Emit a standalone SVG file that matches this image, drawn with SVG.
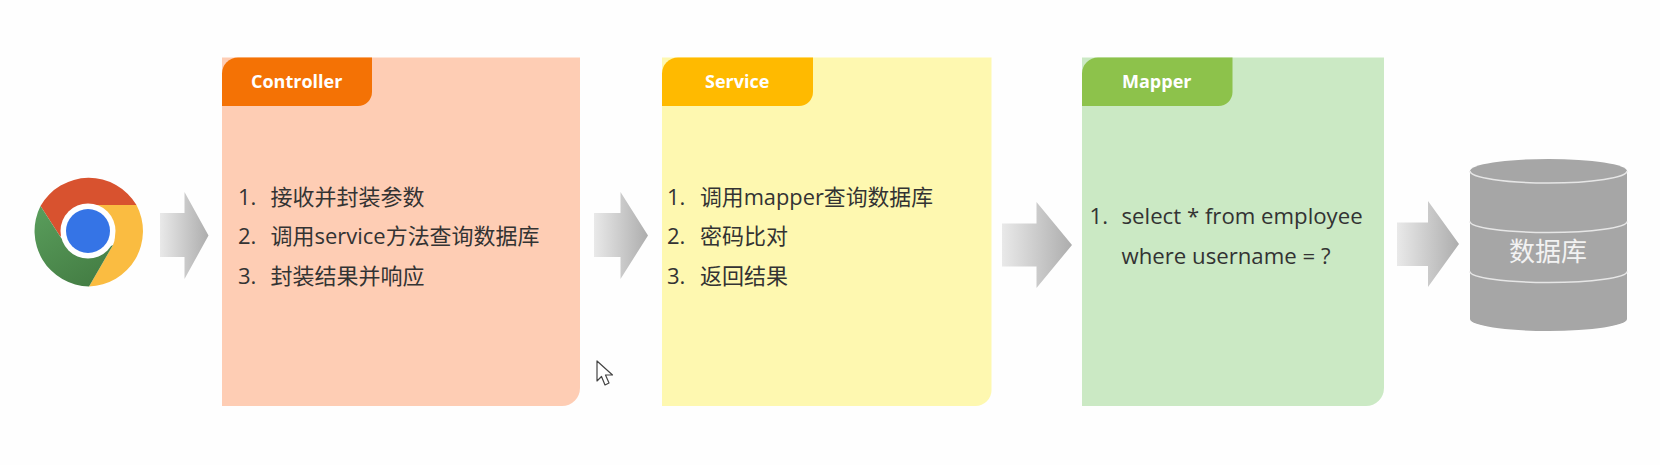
<svg xmlns="http://www.w3.org/2000/svg" width="1660" height="465" viewBox="0 0 1660 465">
<defs>
<linearGradient id="ag" x1="0" y1="0" x2="1" y2="0"><stop offset="0" stop-color="#e9e9e9"/><stop offset="1" stop-color="#adadad"/></linearGradient>
<linearGradient id="gg" x1="0" y1="0" x2="0.600" y2="1"><stop offset="0" stop-color="#5a9e5c"/><stop offset="1" stop-color="#457f45"/></linearGradient>
</defs>
<style>
text{font-family:"Open Sans","Noto Sans CJK SC","Noto Sans",sans-serif}
.t{font-size:22px;fill:#333}
.m{font-size:22.200px;fill:#333}
.h{font-size:18px;font-weight:700;fill:#fff}
.arrow{fill:url(#ag)}
.ln{fill:none;stroke:#e6e6e6;stroke-width:1.600}
</style>
<rect width="1660" height="465" fill="#fefefe"/>
<g id="chrome">
<path d="M40.500 206A55.500 55.500 0 0 1 136.500 205L88 205Q68 207 60.500 237Z" fill="#d8522f"/>
<path d="M136.500 205A55.500 55.500 0 0 1 89 286.500L113 245Q122 225 88 205Z" fill="#fabc41"/>
<path d="M40.500 206A55.500 55.500 0 0 0 89 286.500L113 245Q80 262 60.500 237Z" fill="url(#gg)"/>
<circle cx="88" cy="231" r="27.500" fill="#fff"/>
<circle cx="88" cy="231" r="22" fill="#3574e6"/>
</g>
<g id="controller">
<path d="M222 57.500H580V388A18 18 0 0 1 562 406H222Z" fill="#fecdb4"/>
<path d="M238 57.500H372V92A14 14 0 0 1 358 106H222V73.500A16 16 0 0 1 238 57.500Z" fill="#f47205"/>
<text class="h" x="251" y="88">Controller</text>
<text class="t" x="238" y="205">1.</text><text class="t" x="270.500" y="205">接收并封装参数</text>
<text class="t" x="238" y="244">2.</text><text class="t" x="270.500" y="244" textLength="269" lengthAdjust="spacingAndGlyphs">调用service方法查询数据库</text>
<text class="t" x="238" y="284">3.</text><text class="t" x="270.500" y="284">封装结果并响应</text>
</g>
<g id="service">
<path d="M662 57.500H991.500V390A16 16 0 0 1 975.500 406H662Z" fill="#fef8b0"/>
<path d="M678 57.500H813V92A14 14 0 0 1 799 106H662V73.500A16 16 0 0 1 678 57.500Z" fill="#ffba00"/>
<text class="h" x="705" y="88">Service</text>
<text class="t" x="667" y="205">1.</text><text class="t" x="700" y="205" textLength="233" lengthAdjust="spacingAndGlyphs">调用mapper查询数据库</text>
<text class="t" x="667" y="244">2.</text><text class="t" x="700" y="244">密码比对</text>
<text class="t" x="667" y="284">3.</text><text class="t" x="700" y="284">返回结果</text>
</g>
<g id="mapper">
<path d="M1082 57.500H1384V388A18 18 0 0 1 1366 406H1082Z" fill="#cbe9c4"/>
<path d="M1098 57.500H1232.500V92A14 14 0 0 1 1218.500 106H1082V73.500A16 16 0 0 1 1098 57.500Z" fill="#8dc24b"/>
<text class="h" x="1122" y="88">Mapper</text>
<text class="m" x="1089.500" y="224">1.</text><text class="m" x="1121.500" y="224">select * from employee</text>
<text class="m" x="1121.500" y="264">where username = ?</text>
</g>
<g id="database">
<path d="M1470 171A78.500 12 0 0 1 1627 171V319A78.500 12 0 0 1 1470 319Z" fill="#a6a6a6"/>
<path class="ln" d="M1470 171A78.500 12 0 0 0 1627 171"/>
<path class="ln" d="M1470 221.500A78.500 11 0 0 0 1627 221.500"/>
<path class="ln" d="M1470 271.500A78.500 11 0 0 0 1627 271.500"/>
<text x="1548" y="261" text-anchor="middle" font-size="26" fill="#f2f2f2">数据库</text>
</g>
<g id="connectors">
<polygon class="arrow" points="160,213 184.500,213 184.500,192 208.500,235.500 184.500,279 184.500,257 160,257"/>
<polygon class="arrow" points="594,213 620.500,213 620.500,192 648,235.500 620.500,279 620.500,257 594,257"/>
<polygon class="arrow" points="1002,223.500 1036.500,223.500 1036.500,202 1072,245 1036.500,288 1036.500,266.500 1002,266.500"/>
<polygon class="arrow" points="1397,222.500 1428,222.500 1428,201 1459,244 1428,287 1428,266 1397,266"/>
</g>
<path id="cursor" d="M597 361V381L601.500 376.500L605 385L609 383L605.500 375H612.500Z" fill="#fff" stroke="#444" stroke-width="1.200" stroke-linejoin="round"/>
</svg>
